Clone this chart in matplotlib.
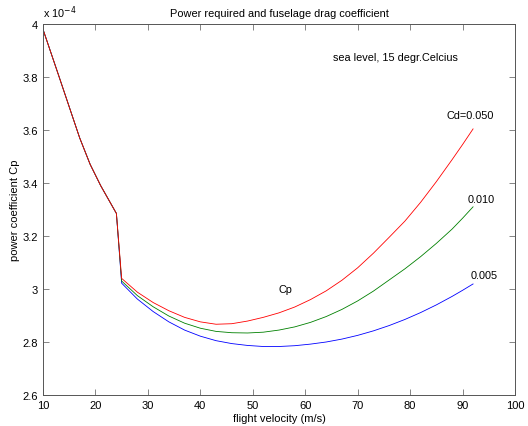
import matplotlib
matplotlib.use("Agg")
import matplotlib.pyplot as plt

plt.rcParams['font.family'] = ['Liberation Sans', 'DejaVu Sans']

# flight velocity (m/s) and power coefficient Cp (x 1e-4)
v_common = [10, 13, 17, 19, 21, 24]
cp_common = [3.98, 3.805, 3.57, 3.47, 3.39, 3.285]

v_tail = [25, 28, 31, 34, 37, 40, 43, 46, 49, 52, 55, 58, 61, 64, 67, 70,
          73, 76, 79, 82, 85, 88, 90, 92]
cp_050 = [3.04, 2.988, 2.949, 2.918, 2.893, 2.876, 2.867, 2.869, 2.879, 2.893,
          2.91, 2.932, 2.96, 2.993, 3.033, 3.08, 3.135, 3.195, 3.256, 3.327,
          3.405, 3.488, 3.545, 3.604]
cp_010 = [3.03, 2.975, 2.933, 2.898, 2.871, 2.852, 2.84, 2.835, 2.834, 2.837,
          2.845, 2.857, 2.874, 2.896, 2.923, 2.955, 2.992, 3.034, 3.076, 3.122,
          3.172, 3.226, 3.267, 3.31]
cp_005 = [3.022, 2.962, 2.915, 2.876, 2.845, 2.822, 2.805, 2.794, 2.787, 2.783,
          2.783, 2.786, 2.792, 2.8, 2.811, 2.825, 2.842, 2.862, 2.885, 2.911,
          2.94, 2.972, 2.995, 3.019]

fig = plt.figure(figsize=(5.28, 4.27), dpi=100)
ax = fig.add_axes([0.0814, 0.0726, 0.894, 0.8689])

for cp, col in [(cp_005, '#0000ff'), (cp_010, '#008000'), (cp_050, '#ff0000')]:
    ax.plot(v_common + v_tail, [c * 1e-4 for c in cp_common + cp], color=col, lw=0.6)

ax.set_xlim(10, 100)
ax.set_ylim(2.6e-4, 4e-4)
ax.set_xticks(range(10, 101, 10))
ax.set_yticks([2.6e-4, 2.8e-4, 3e-4, 3.2e-4, 3.4e-4, 3.6e-4, 3.8e-4, 4e-4])
ax.set_yticklabels(['2.6', '2.8', '3', '3.2', '3.4', '3.6', '3.8', '4'])
ax.tick_params(direction='in', top=True, right=True, labelsize=8, length=4,
               width=0.5, color='#555555')
for s in ax.spines.values():
    s.set_linewidth(0.7)
    s.set_color('#555555')

ax.text(0, 1.01, 'x 10$^{-4}$', transform=ax.transAxes, fontsize=7.8, va='bottom')
ax.set_title('Power required and fuselage drag coefficient', fontsize=7.9, pad=6)
ax.set_xlabel('flight velocity (m/s)', fontsize=8, labelpad=2)
ax.set_ylabel('power coefficient Cp', fontsize=8, labelpad=2)

ax.text(65.3, 3.875e-4, 'sea level, 15 degr.Celcius', fontsize=7.8, va='center')
ax.text(87.0, 3.657e-4, 'Cd=0.050', fontsize=7.8, va='center')
ax.text(91.0, 3.34e-4, '0.010', fontsize=7.8, va='center')
ax.text(91.6, 3.053e-4, '0.005', fontsize=7.8, va='center')
ax.text(55.0, 3.0e-4, 'Cp', fontsize=7.8, va='center')

fig.savefig('out.png', dpi=100)
